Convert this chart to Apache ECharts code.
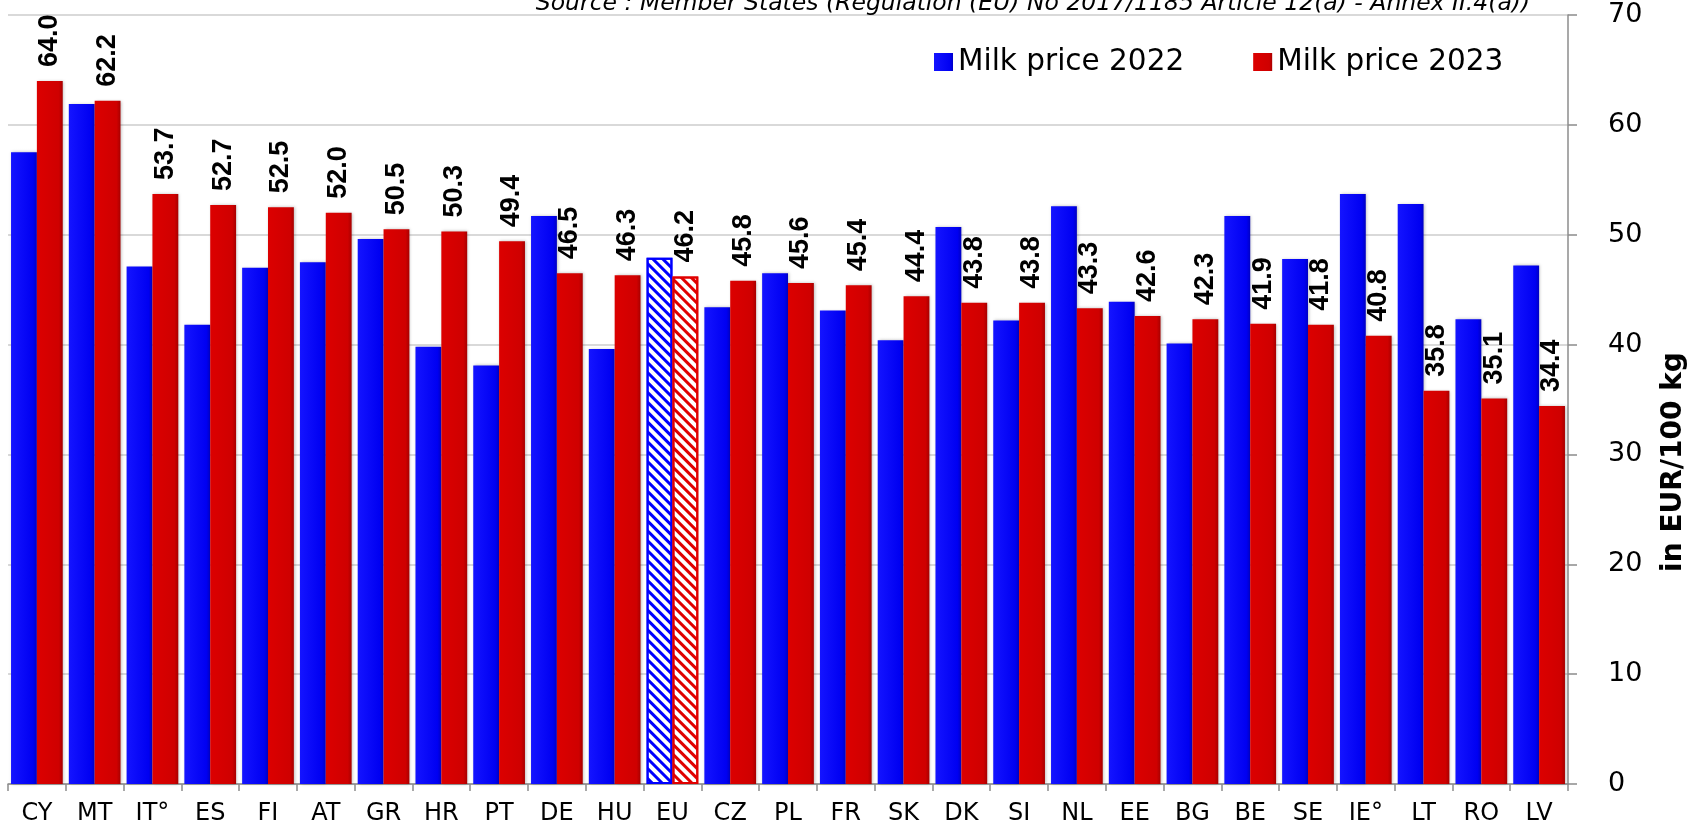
<!DOCTYPE html>
<html>
<head>
<meta charset="utf-8">
<script src="https://cdn.jsdelivr.net/npm/echarts@6/dist/echarts.min.js"></script>
<style>
html,body{margin:0;padding:0;background:#fff;}
#chart{width:1690px;height:833px;}
</style>
</head>
<body>
<div id="chart"></div>
<script>
const categories = ['CY','MT','IT°','ES','FI','AT','GR','HR','PT','DE','HU','EU','CZ','PL','FR','SK','DK','SI','NL','EE','BG','BE','SE','IE°','LT','RO','LV'];
const price2022 = [57.5,61.9,47.1,41.8,47.0,47.5,49.6,39.8,38.1,51.7,39.6,47.9,43.4,46.5,43.1,40.4,50.7,42.2,52.6,43.9,40.1,51.7,47.8,53.7,52.8,42.3,47.2];
const price2023 = [64.0,62.2,53.7,52.7,52.5,52.0,50.5,50.3,49.4,46.5,46.3,46.2,45.8,45.6,45.4,44.4,43.8,43.8,43.3,42.6,42.3,41.9,41.8,40.8,35.8,35.1,34.4];
const yTicks = [0,10,20,30,40,50,60,70];
const seriesNames = ['Milk price 2022','Milk price 2023'];
const highlightCategory = 'EU';
const sourceText = 'Source : Member States (Regulation (EU) No 2017/1185 Article 12(a) - Annex II.4(a))';
const axisName = 'in EUR/100 kg';

const BLUE = '#0000ff';
const blueFill = new echarts.graphic.LinearGradient(0,0,1,0,[
  {offset:0,color:'#1414ff'},{offset:0.85,color:'#0000f2'},{offset:1,color:'#0000c4'}]);
const redFill = new echarts.graphic.LinearGradient(0,0,1,0,[
  {offset:0,color:'#dc0000'},{offset:0.85,color:'#cf0000'},{offset:1,color:'#a80000'}]);

function hatch(color){
  return {symbol:'rect', symbolSize:1, color:color, dashArrayX:[1,0], dashArrayY:[2.5,3.8], rotation:Math.PI/4};
}
function buildData(values, strokeColor){
  return values.map((v,i)=> categories[i]===highlightCategory ? {
    value:v,
    itemStyle:{color:'#ffffff', borderColor:strokeColor, borderWidth:2, shadowBlur:0, shadowOffsetX:0, decal:hatch(strokeColor)}
  } : {value:v});
}

const chart = echarts.init(document.getElementById('chart'));
chart.setOption({
  animation:false,
  backgroundColor:'#ffffff',
  textStyle:{fontFamily:'DejaVu Sans'},
  grid:{left:8, right:122, top:15, bottom:49, containLabel:false},
  legend:{
    data:seriesNames, left:934, top:47, padding:0, itemGap:69,
    itemWidth:19, itemHeight:18, icon:'rect',
    textStyle:{fontSize:29.5, color:'#000', fontFamily:'DejaVu Sans', lineHeight:30}
  },
  xAxis:{
    type:'category', data:categories,
    axisLine:{show:true, lineStyle:{color:'#8c8c8c', width:1.5}},
    axisTick:{show:true, length:7, lineStyle:{color:'#8c8c8c', width:1.5}},
    axisLabel:{interval:0, fontSize:24, color:'#000', margin:18, fontFamily:'DejaVu Sans'}
  },
  yAxis:{
    type:'value', position:'right', min:0, max:70, interval:10,
    axisLine:{show:true, lineStyle:{color:'#8c8c8c', width:1.5}},
    axisTick:{show:true, length:9, lineStyle:{color:'#8c8c8c', width:1.5}},
    axisLabel:{fontSize:27, color:'#000', margin:40, fontFamily:'DejaVu Sans',
      formatter:(v)=> yTicks.includes(v) ? String(v) : ''},
    splitLine:{show:true, lineStyle:{color:'#d9d9d9', width:2}}
  },
  series:[
    {
      name:seriesNames[0], type:'bar', barGap:'0%', barCategoryGap:'10.5%',
      itemStyle:{color:blueFill, shadowColor:'rgba(0,0,0,0.25)', shadowBlur:3, shadowOffsetX:1},
      data:buildData(price2022, BLUE)
    },
    {
      name:seriesNames[1], type:'bar', barGap:'0%', barCategoryGap:'10.5%',
      itemStyle:{color:redFill, shadowColor:'rgba(0,0,0,0.25)', shadowBlur:3, shadowOffsetX:1},
      label:{
        show:true, position:'top', rotate:90, align:'left', verticalAlign:'middle',
        distance:14,
        fontFamily:'Liberation Sans', fontWeight:'bold', fontSize:27, color:'#000',
        formatter:(p)=> Number(p.value).toFixed(1)
      },
      data:buildData(price2023, '#e00000')
    }
  ],
  graphic:[
    {type:'rect', z:100, shape:{x:0, y:0, width:1560, height:14}, style:{fill:'#ffffff'}},
    {type:'text', z:101, x:1033, y:4, style:{text:sourceText, textAlign:'center', textVerticalAlign:'middle',
      font:'italic 23.5px "DejaVu Sans"', fill:'#000'}},
    {type:'text', z:101, x:1674, y:462, rotation:Math.PI/2, style:{text:axisName, textAlign:'center', textVerticalAlign:'middle',
      font:'bold 28px "DejaVu Sans"', fill:'#000'}}
  ]
});
</script>
</body>
</html>
